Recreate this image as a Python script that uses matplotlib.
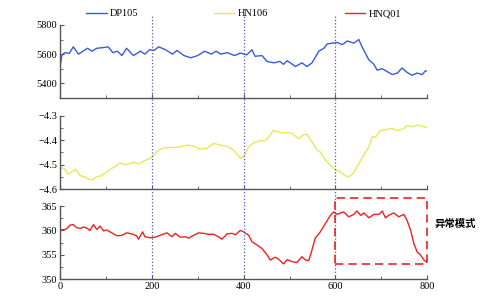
import matplotlib.pyplot as plt
from matplotlib.patches import Rectangle
from matplotlib.ticker import MultipleLocator

plt.rcParams['font.family'] = ['Liberation Serif', 'Noto Sans CJK SC']

# DP105 readings
dp_x = [0, 4, 10, 20, 29, 40, 50, 60, 70, 80, 95, 105, 115, 125, 135, 145, 160, 175, 185, 195,
        205, 215, 230, 245, 255, 270, 285, 300, 315, 330, 340, 350, 365, 380, 393, 407, 418, 425,
        440, 451, 466, 479, 487, 495, 513, 527, 538, 549, 564, 575, 582, 593, 604, 615, 626, 640,
        651, 658, 673, 684, 691, 702, 713, 724, 735, 745, 756, 767, 778, 789, 796, 800]
dp_y = [5510, 5590, 5610, 5605, 5650, 5600, 5620, 5640, 5620, 5640, 5645, 5650, 5610, 5620, 5590,
        5640, 5590, 5620, 5600, 5630, 5625, 5650, 5630, 5600, 5625, 5590, 5575, 5590, 5620, 5600,
        5620, 5600, 5610, 5590, 5607, 5595, 5630, 5585, 5590, 5550, 5540, 5550, 5530, 5555, 5515,
        5540, 5515, 5540, 5620, 5640, 5670, 5675, 5680, 5665, 5690, 5675, 5700, 5650, 5560, 5530,
        5490, 5500, 5480, 5460, 5470, 5505, 5475, 5455, 5470, 5460, 5485, 5485]

# HN106 readings
hn_x = [0, 4, 11, 18, 25, 35, 44, 55, 65, 73, 80, 87, 98, 109, 120, 131, 142, 153, 160, 171, 182,
        193, 200, 211, 222, 233, 247, 262, 276, 291, 305, 320, 335, 349, 364, 378, 393, 400, 411,
        422, 436, 447, 455, 465, 473, 484, 495, 505, 520, 531, 538, 549, 560, 567, 578, 589, 600,
        611, 622, 629, 640, 651, 662, 673, 680, 687, 698, 713, 724, 735, 749, 756, 767, 778, 789, 800]
hn_y = [-4.527, -4.511, -4.52, -4.54, -4.53, -4.52, -4.545, -4.55, -4.562, -4.56, -4.548, -4.548,
        -4.535, -4.52, -4.507, -4.493, -4.5, -4.496, -4.49, -4.497, -4.486, -4.477, -4.47, -4.447,
        -4.434, -4.43, -4.43, -4.427, -4.42, -4.424, -4.437, -4.433, -4.413, -4.42, -4.425, -4.44,
        -4.474, -4.468, -4.427, -4.41, -4.402, -4.402, -4.386, -4.359, -4.365, -4.37, -4.369,
        -4.372, -4.393, -4.377, -4.376, -4.406, -4.441, -4.448, -4.481, -4.502, -4.522, -4.529,
        -4.547, -4.55, -4.533, -4.495, -4.461, -4.427, -4.386, -4.388, -4.361, -4.355, -4.352,
        -4.361, -4.352, -4.34, -4.345, -4.338, -4.342, -4.349]

# HNQ01 readings
hq_x = [0, 2, 11, 15, 22, 29, 36, 44, 51, 58, 65, 73, 80, 87, 95, 102, 109, 124, 135, 145, 156,
        167, 171, 180, 185, 196, 207, 218, 233, 244, 251, 262, 273, 280, 291, 302, 313, 324, 335,
        345, 353, 364, 375, 382, 389, 393, 400, 411, 418, 429, 440, 451, 458, 469, 476, 487, 495,
        505, 516, 527, 535, 542, 549, 556, 567, 578, 589, 596, 604, 611, 618, 629, 640, 647, 655,
        662, 673, 684, 695, 702, 709, 716, 727, 738, 749, 756, 764, 771, 778, 785, 793, 800]
hq_y = [359.5, 360.1, 360.2, 360.4, 361.1, 361.2, 360.6, 360.4, 360.7, 360.5, 360.0, 361.2, 360.2,
        360.9, 359.9, 360.1, 359.7, 358.9, 359.0, 359.5, 359.3, 358.9, 358.2, 359.7, 358.7, 358.5,
        358.6, 359.0, 359.5, 358.7, 359.4, 358.6, 358.7, 358.4, 359.0, 359.5, 359.4, 359.2, 359.2,
        358.7, 358.2, 359.3, 359.4, 359.1, 359.7, 360.0, 359.7, 359.0, 357.7, 357.0, 356.3, 355.0,
        353.9, 354.5, 354.1, 353.1, 354.0, 353.6, 353.4, 354.6, 353.9, 353.8, 356.0, 358.4, 359.7,
        361.4, 363.1, 363.8, 363.3, 363.6, 363.8, 362.8, 363.3, 364.0, 363.1, 363.6, 362.6, 363.3,
        363.3, 364.0, 362.6, 363.1, 363.6, 362.8, 363.3, 362.1, 360.0, 357.3, 355.6, 355.0, 353.9,
        353.4]

marks = [200, 400, 600]
box_x = [600, 800]
box_y = [353.1, 366.7]

fig = plt.figure(figsize=(4.8, 3.04), dpi=100)
left, width = 0.125, 0.765
ax1 = fig.add_axes([left, 0.678, width, 0.24])
ax2 = fig.add_axes([left, 0.378, width, 0.241])
ax3 = fig.add_axes([left, 0.082, width, 0.24])

l1, = ax1.plot(dp_x, dp_y, color='#3a5ae0', lw=1.0)
l2, = ax2.plot(hn_x, hn_y, color='#e8e85a', lw=1.0)
l3, = ax3.plot(hq_x, hq_y, color='#ee2222', lw=1.0)

ax1.set_ylim(5300, 5800)
ax1.yaxis.set_major_locator(MultipleLocator(200))
ax1.yaxis.set_minor_locator(MultipleLocator(100))
ax2.set_ylim(-4.6, -4.3)
ax2.yaxis.set_major_locator(MultipleLocator(0.1))
ax2.yaxis.set_minor_locator(MultipleLocator(0.05))
ax3.set_ylim(350, 365)
ax3.yaxis.set_major_locator(MultipleLocator(5))
ax3.yaxis.set_minor_locator(MultipleLocator(2.5))

for ax in (ax1, ax2, ax3):
    ax.set_xlim(0, 800)
    ax.xaxis.set_major_locator(MultipleLocator(200))
    ax.xaxis.set_minor_locator(MultipleLocator(100))
    for s in ('top', 'right'):
        ax.spines[s].set_visible(False)
    for s in ('left', 'bottom'):
        ax.spines[s].set_color('#555555')
        ax.spines[s].set_linewidth(1.0)
    ax.tick_params(which='both', direction='in', color='#555555', labelsize=7.5, pad=2)
    ax.tick_params(which='major', length=3)
    ax.tick_params(which='minor', length=2)
    ax.patch.set_alpha(0)
ax1.tick_params(axis='x', labelbottom=False)
ax2.tick_params(axis='x', labelbottom=False)
ax3.tick_params(axis='x', which='both', direction='in')

# dotted marker lines through all panels
over = fig.add_axes([left, 0.082, width, 0.865])
over.set_xlim(0, 800)
over.set_ylim(0, 1)
over.axis('off')
for m in marks:
    over.axvline(m, color='#5555bb', ls=':', lw=0.9)

ax3.add_patch(Rectangle((box_x[0], box_y[0]), box_x[1] - box_x[0], box_y[1] - box_y[0],
                        fill=False, ec='#ee2222', ls=(0, (5, 3)), lw=1.2, clip_on=False))
ax3.text(1.02, 0.76, '异常模式', transform=ax3.transAxes, fontsize=7.5,
         family=['Noto Sans CJK SC'], fontweight='bold', va='center', ha='left')

fig.legend([l1, l2, l3], ['DP105', 'HN106', 'HNQ01'], ncol=3, loc='center',
           bbox_to_anchor=(0.507, 0.955), frameon=False, fontsize=7.5,
           handlelength=2.0, handletextpad=0.3, columnspacing=7.3)

fig.savefig('out.png', dpi=100)
